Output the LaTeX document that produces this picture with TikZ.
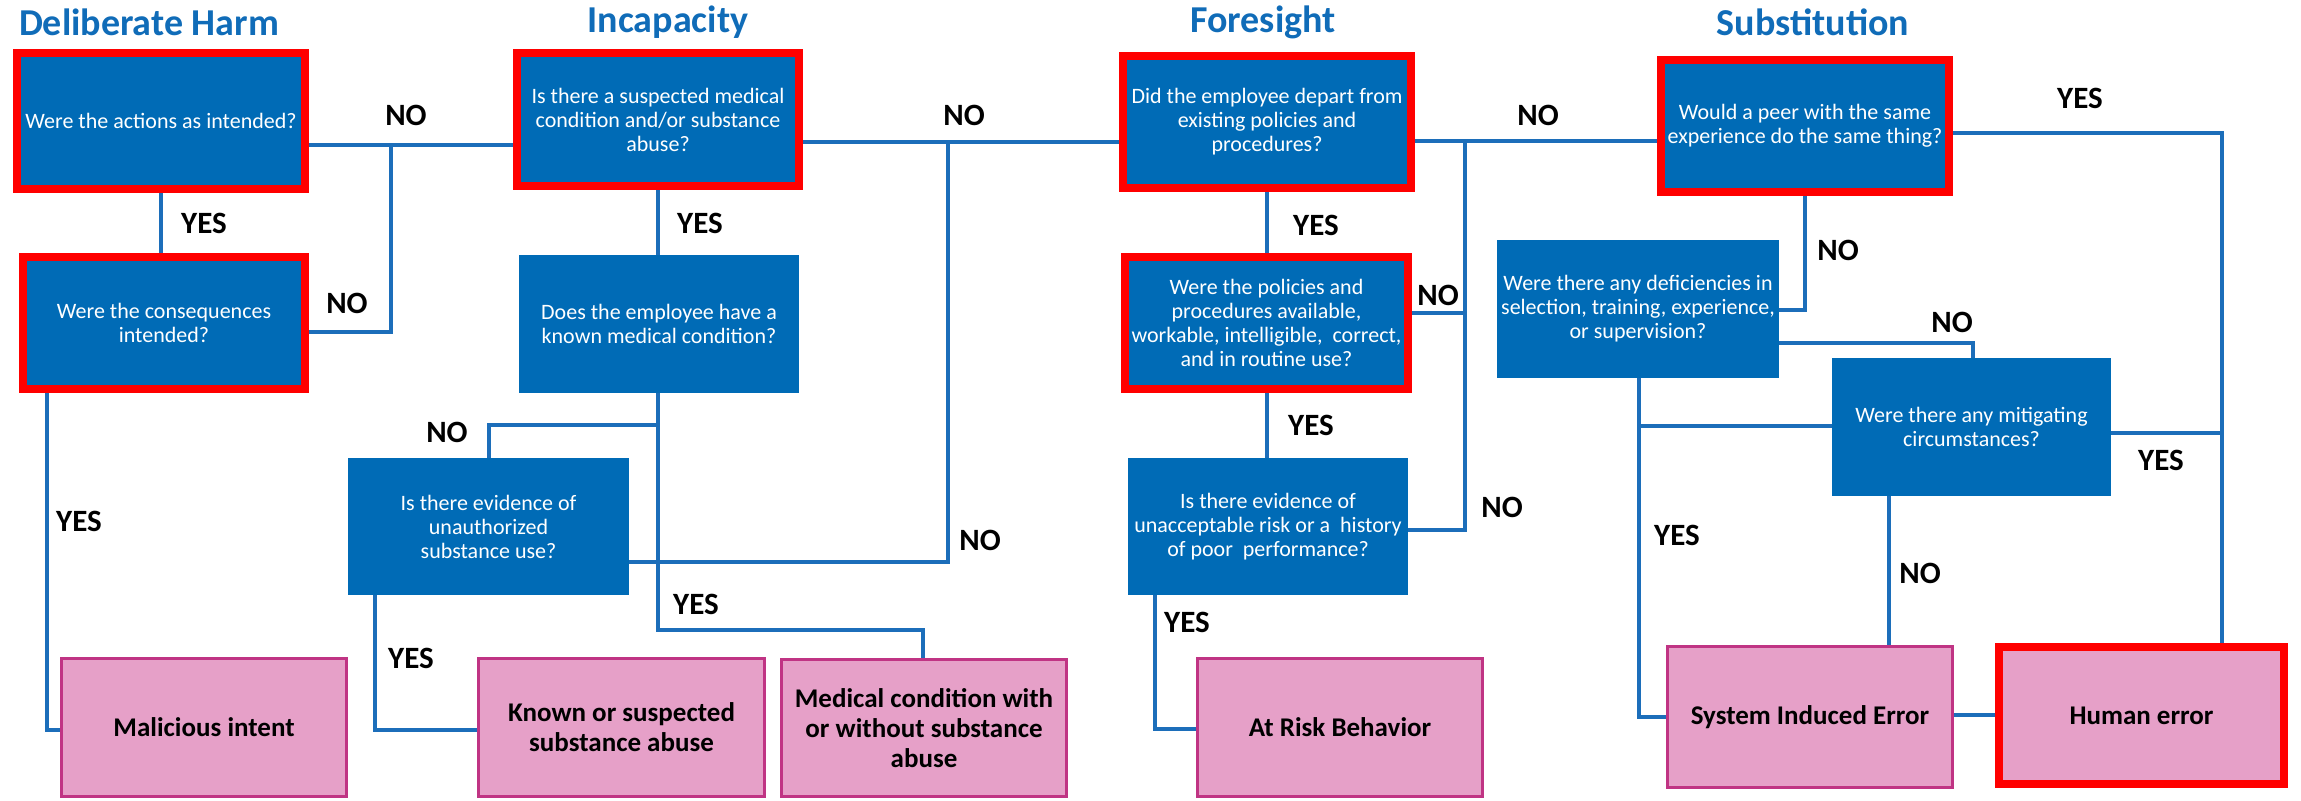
\documentclass[tikz,border=0pt]{standalone}
\usepackage{fontspec}
\setmainfont{Carlito}
\usetikzlibrary{calc}
\definecolor{boxblue}{RGB}{0,107,182}
\definecolor{lineblue}{RGB}{28,110,186}
\definecolor{titleblue}{RGB}{16,108,184}
\definecolor{leafpink}{RGB}{230,160,200}
\definecolor{leafedge}{RGB}{192,52,132}
\definecolor{redb}{RGB}{255,0,0}
\pgfdeclarelayer{background}
\pgfsetlayers{background,main}
\tikzset{
  q/.style={rectangle, fill=boxblue, draw=none, text=white, font=\fontsize{22}{24}\selectfont, align=center, inner sep=0pt},
  qr/.style={q, draw=redb, line width=8pt},
  leaf/.style={rectangle, fill=leafpink, draw=leafedge, line width=3pt, font=\bfseries\fontsize{27}{30}\selectfont, align=center, inner sep=0pt},
  leafr/.style={leaf, draw=redb, line width=8pt},
  lbl/.style={font=\bfseries\fontsize{31}{31}\selectfont, inner sep=0pt},
  ttl/.style={font=\bfseries\fontsize{38}{38}\selectfont, text=titleblue, inner sep=0pt},
  conn/.style={draw=lineblue, line width=4pt},
}
\begin{document}
\begin{tikzpicture}[x=1pt,y=-1pt]
\useasboundingbox (0,0) rectangle (2301,800);
% titles
\node[ttl] (tDH) at (149,22) {Deliberate Harm};
\node[ttl] (tInc) at (668,22) {Incapacity};
\node[ttl] (tFor) at (1263,22) {Foresight};
\node[ttl] (tSub) at (1813,22) {Substitution};
% decision boxes
\node[qr, minimum width=288, minimum height=136] (A1) at (161,121) {Were the actions as intended?};
\node[qr, minimum width=282, minimum height=132] (A2) at (164,323) {Were the consequences\\intended?};
\node[qr, minimum width=282, minimum height=133] (B1) at (658,119.5) {Is there a suspected medical\\condition and/or substance\\abuse?};
\node[q, minimum width=280, minimum height=138] (B2) at (659,324) {Does the employee have a\\known medical condition?};
\node[q, minimum width=281, minimum height=137] (B3) at (488.5,526.5) {Is there evidence of\\unauthorized\\substance use?};
\node[qr, minimum width=288, minimum height=132] (C1) at (1267,122) {Did the employee depart from\\existing policies and\\procedures?};
\node[qr, minimum width=283, minimum height=132] (C2) at (1266.5,323) {Were the policies and\\procedures available,\\workable, intelligible,\ \ correct,\\and in routine use?};
\node[q, minimum width=280, minimum height=137] (C3) at (1268,526.5) {Is there evidence of\\unacceptable risk or a\ \ history\\of poor\ \ performance?};
\node[qr, minimum width=288, minimum height=132] (D1) at (1805,126) {Would a peer with the same\\experience do the same thing?};
\node[q, minimum width=282, minimum height=138] (D2) at (1638,309) {Were there any deficiencies in\\selection, training, experience,\\or supervision?};
\node[q, minimum width=279, minimum height=138] (D3) at (1971.5,427) {Were there any mitigating\\circumstances?};
% leaves
\node[leaf, minimum width=285, minimum height=138] (L1) at (204,727.5) {Malicious intent};
\node[leaf, minimum width=286, minimum height=138] (L2) at (621.5,727.5) {Known or suspected\\substance abuse};
\node[leaf, minimum width=285, minimum height=137] (L3) at (924,728) {Medical condition with\\or without substance\\abuse};
\node[leaf, minimum width=285, minimum height=138] (L4) at (1340,727.5) {At Risk Behavior};
\node[leaf, minimum width=285, minimum height=141] (L5) at (1810,717) {System Induced Error};
\node[leafr, minimum width=285, minimum height=137] (L6) at (2141.5,715.5) {Human error};
% junction coordinates
\coordinate (j1) at (391,145);
\coordinate (j1b) at (391,332);
\coordinate (k1) at (47,730);
\coordinate (j2) at (948,142);
\coordinate (k2) at (658,630);
\coordinate (k3) at (923,630);
\coordinate (k4) at (658,425);
\coordinate (k5) at (489,425);
\coordinate (k6) at (948,562);
\coordinate (k7) at (375,730);
\coordinate (j3) at (1465,141);
\coordinate (k8) at (1465,313);
\coordinate (k9) at (1465,530);
\coordinate (k10) at (1155,729);
\coordinate (k11) at (2222,133);
\coordinate (k12) at (1805,310);
\coordinate (k13) at (1973,343);
\coordinate (k14) at (1639,717);
\coordinate (k15) at (1639,426);
\coordinate (k16) at (2222,433);
\coordinate (k17) at (1889,500);
\coordinate (k18) at (1975,715);
\begin{pgfonlayer}{background}
\draw[conn] (A1.east |- j1) -- (B1.west |- j1);
\draw[conn] (A2.east |- j1b) -- (j1b) -- (j1);
\draw[conn] (A1.south) -- (A1.south |- A2.north);
\draw[conn] (A2.south -| k1) -- (k1) -- (L1.west |- k1);
\draw[conn] (B1.east |- j2) -- (C1.west |- j2);
\draw[conn] (B1.south) -- (B1.south |- B2.north);
\draw[conn] (B2.south -| k2) -- (k2) -- (k3) -- (L3.north -| k3);
\draw[conn] (k4) -- (k5) -- (B3.north -| k5);
\draw[conn] (B3.east |- k6) -- (k6) -- (j2);
\draw[conn] (B3.south -| k7) -- (k7) -- (L2.west |- k7);
\draw[conn] (C1.east |- j3) -- (D1.west |- j3);
\draw[conn] (C1.south) -- (C1.south |- C2.north);
\draw[conn] (C2.south) -- (C2.south |- C3.north);
\draw[conn] (C2.east |- k8) -- (k8);
\draw[conn] (C3.east |- k9) -- (k9) -- (j3);
\draw[conn] (C3.south -| k10) -- (k10) -- (L4.west |- k10);
\draw[conn] (D1.east |- k11) -- (k11) -- (L6.north -| k11);
\draw[conn] (D1.south) -- (k12) -- (D2.east |- k12);
\draw[conn] (D2.east |- k13) -- (k13) -- (D3.north -| k13);
\draw[conn] (D2.south -| k14) -- (k14) -- (L5.west |- k14);
\draw[conn] (D3.west |- k15) -- (k15);
\draw[conn] (D3.east |- k16) -- (k16);
\draw[conn] (D3.south -| k17) -- (L5.north -| k17);
\draw[conn] (L5.east |- k18) -- (L6.west |- k18);
\end{pgfonlayer}
% labels
\node[lbl] (n1) at (406,115) {NO};
\node[lbl] (n2) at (347,303) {NO};
\node[lbl] (y1) at (204,223) {YES};
\node[lbl] (y2) at (79,521) {YES};
\node[lbl] (y3) at (700,223) {YES};
\node[lbl] (n3) at (447,432) {NO};
\node[lbl] (y4) at (696,604) {YES};
\node[lbl] (y5) at (411,658) {YES};
\node[lbl] (n4) at (964,115) {NO};
\node[lbl] (n5) at (980,540) {NO};
\node[lbl] (y6) at (1316,225) {YES};
\node[lbl] (n6) at (1438,295) {NO};
\node[lbl] (y7) at (1311,425) {YES};
\node[lbl] (n7) at (1502,507) {NO};
\node[lbl] (y8) at (1187,622) {YES};
\node[lbl] (n8) at (1538,115) {NO};
\node[lbl] (y9) at (2080,98) {YES};
\node[lbl] (n9) at (1838,250) {NO};
\node[lbl] (n10) at (1952,322) {NO};
\node[lbl] (y10) at (1677,535) {YES};
\node[lbl] (y11) at (2161,460) {YES};
\node[lbl] (n11) at (1920,573) {NO};
\end{tikzpicture}
\end{document}
